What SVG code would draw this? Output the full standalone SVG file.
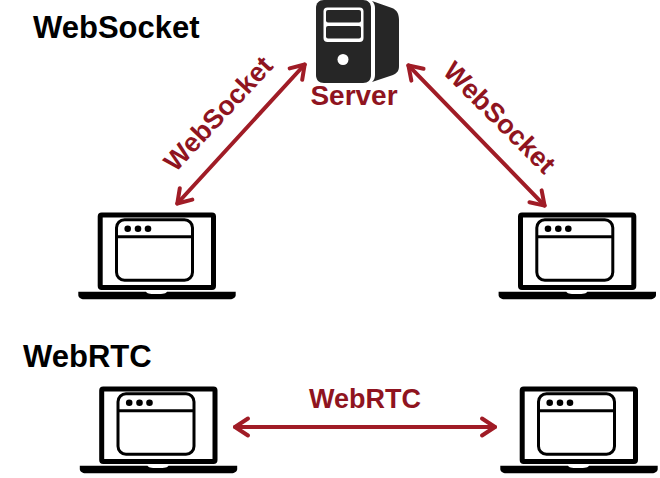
<svg xmlns="http://www.w3.org/2000/svg" width="660" height="478" viewBox="0 0 660 478">
<style>
.t{font-family:"Liberation Sans",Arial,sans-serif;font-weight:700}
.h{font-size:31px;fill:#000}
.l{font-size:27px;fill:#8f1420}
.s{font-size:28px;fill:#8f1420}
.c{fill:none;stroke:#a01c26;stroke-width:4;stroke-linecap:round;stroke-linejoin:round}
.d{fill:#262626}
</style>
<defs>
<g id="laptop">
<rect x="100.200" y="214.900" width="113.300" height="72.600" rx="1.500" fill="#fff" stroke="#000" stroke-width="5"/>
<rect x="116.500" y="219.800" width="76" height="60.400" rx="8" fill="#fff" stroke="#000" stroke-width="3"/>
<path d="M116 236.700H193" stroke="#000" stroke-width="3"/>
<circle cx="127.700" cy="228.700" r="3.300"/><circle cx="138" cy="228.700" r="3.300"/><circle cx="148" cy="228.700" r="3.300"/>
<path d="M78.300 291.700H146C147 293.500 149 294 156 294C164 294 166 293.500 167 291.700H235.700V295C235.700 297.500 233 299.300 230 299.300H84C81 299.300 78.300 297.500 78.300 295Z"/>
</g>
<marker id="a" markerUnits="userSpaceOnUse" markerWidth="24" markerHeight="28" refX="20" refY="14" orient="auto-start-reverse" viewBox="0 0 24 28"><path d="M7 5.500L20 14L7 22.500" fill="none" stroke="#a01c26" stroke-width="4" stroke-linecap="round" stroke-linejoin="round"/></marker>
</defs>
<g id="server">
<path class="d" d="M324 0H363C368 0 371 3 371 8V75C371 80 368 83 363 83H324C319 83 316 80 316 75V8C316 3 319 0 324 0Z"/>
<path class="d" d="M372 1L392 8C397 10 399 14 399 20V66C399 71 397 73 393 75L372 82C374 80 375 78 375 75V8C375 5 374 3 372 1Z"/>
<rect x="323.500" y="7.500" width="40" height="34.500" rx="4" fill="#fff"/>
<rect x="326" y="10" width="35" height="12.500" rx="2" class="d"/>
<rect x="326" y="26" width="35" height="12.500" rx="2" class="d"/>
<circle cx="343" cy="59.500" r="5.500" fill="#fff"/>
<text class="t s" x="354" y="105" text-anchor="middle">Server</text>
</g>
<g id="laptop-tl"><use href="#laptop"/></g>
<g id="laptop-tr"><use href="#laptop" x="420.300"/></g>
<g id="laptop-bl"><use href="#laptop" x="1.500" y="174"/></g>
<g id="laptop-br"><use href="#laptop" x="422" y="174"/></g>
<g id="connectors">
<path class="c" d="M304.700 64.500L177.300 203.500" marker-start="url(#a)" marker-end="url(#a)"/>
<path class="c" d="M408.400 65.400L544.600 205.600" marker-start="url(#a)" marker-end="url(#a)"/>
<path class="c" d="M235 427H495" marker-start="url(#a)" marker-end="url(#a)"/>
</g>
<g id="labels">
<text class="t h" x="33" y="38">WebSocket</text>
<text class="t h" x="23" y="367">WebRTC</text>
<text class="t l" x="225" y="120" text-anchor="middle" transform="rotate(-47 225 120)">WebSocket</text>
<text class="t l" x="493" y="124" text-anchor="middle" transform="rotate(45 493 124)">WebSocket</text>
<text class="t l" x="365" y="408" text-anchor="middle">WebRTC</text>
</g>
</svg>
